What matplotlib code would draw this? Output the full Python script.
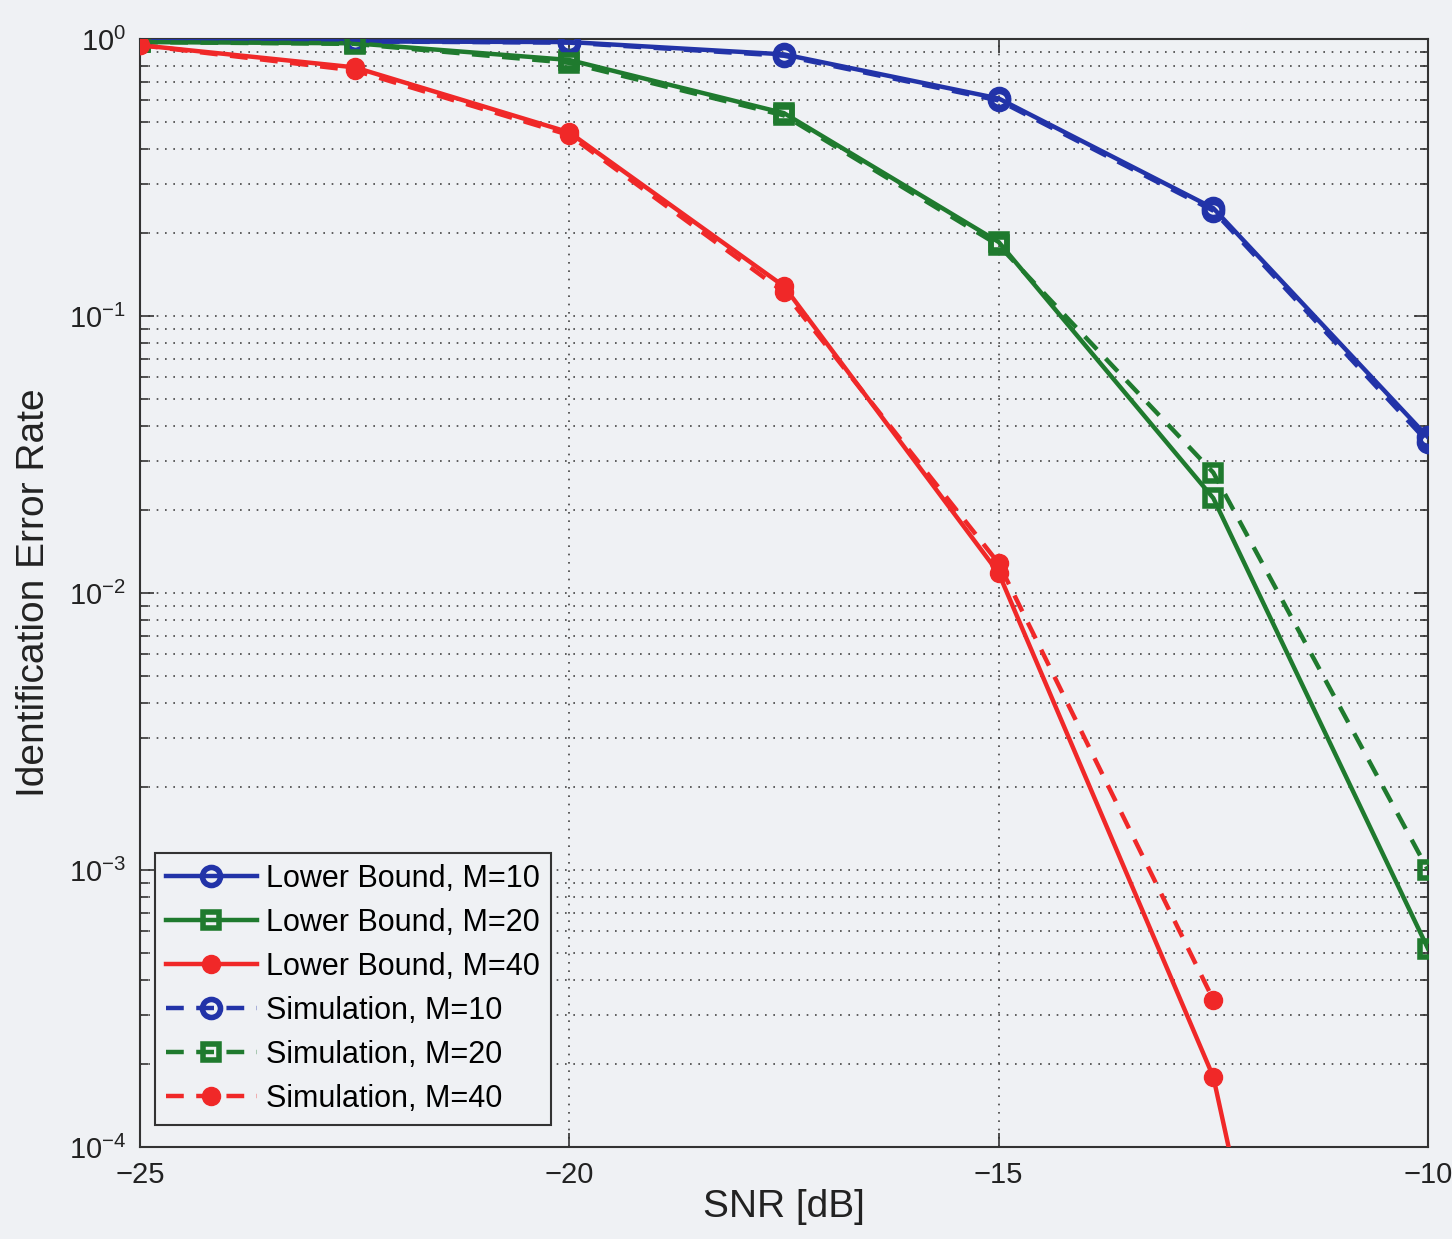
"""
Identification error rate vs SNR: lower bound and simulation curves.
"""

import numpy as np
import matplotlib
matplotlib.use('Agg')
import matplotlib.pyplot as plt
from matplotlib.ticker import LogLocator, FixedLocator

plt.rcParams['font.family'] = ['Liberation Sans', 'DejaVu Sans']
plt.rcParams['mathtext.fontset'] = 'custom'
plt.rcParams['mathtext.rm'] = 'Liberation Sans'

# Data
snr_db = [-25, -22.5, -20, -17.5, -15, -12.5, -10]

bound_m10 = [0.985, 0.98, 0.975, 0.88, 0.61, 0.245, 0.0365]
bound_m20 = [0.975, 0.965, 0.84, 0.54, 0.185, 0.022, 5.2e-4]
bound_m40 = [0.95, 0.79, 0.46, 0.128, 0.0118, 1.79e-4, 5e-8]

sim_m10 = [0.985, 0.98, 0.97, 0.87, 0.60, 0.24, 0.035]
sim_m20 = [0.975, 0.96, 0.82, 0.53, 0.18, 0.0272, 1.0e-3]
sim_m40 = [0.95, 0.77, 0.45, 0.122, 0.0128, 3.4e-4]

BLUE = '#2233a8'
GREEN = '#1f7a2e'
RED = '#f02828'
BG = '#eff1f4'

fig = plt.figure(figsize=(14.52, 12.39), dpi=100, facecolor=BG)
ax = fig.add_axes([140 / 1452, 1 - 1147 / 1239, 1288 / 1452, 1108 / 1239])
ax.set_facecolor(BG)

lw = 3.2
ms = 13
dash = (4, 2.8)

ax.plot(snr_db, bound_m10, '-', color=BLUE, lw=lw, marker='o', ms=ms,
        mfc='none', mec=BLUE, mew=4, label='Lower Bound, M=10', zorder=3)
ax.plot(snr_db, bound_m20, '-', color=GREEN, lw=lw, marker='s', ms=ms - 1,
        mfc='none', mec=GREEN, mew=4, label='Lower Bound, M=20', zorder=3)
ax.plot(snr_db, bound_m40, '-', color=RED, lw=lw, marker='o', ms=ms,
        mfc=RED, mec=RED, label='Lower Bound, M=40', zorder=3)

ax.plot(snr_db, sim_m10, '--', color=BLUE, lw=lw, marker='o', ms=ms,
        mfc='none', mec=BLUE, mew=4, dashes=dash, label='Simulation, M=10', zorder=3)
ax.plot(snr_db, sim_m20, '--', color=GREEN, lw=lw, marker='s', ms=ms - 1,
        mfc='none', mec=GREEN, mew=4, dashes=dash, label='Simulation, M=20', zorder=3)
ax.plot(snr_db[:len(sim_m40)], sim_m40, '--', color=RED, lw=lw, marker='o', ms=ms,
        mfc=RED, mec=RED, dashes=dash, label='Simulation, M=40', zorder=3)

ax.set_yscale('log')
ax.set_xlim(-25, -10)
ax.set_ylim(1e-4, 1)
ax.xaxis.set_major_locator(FixedLocator([-25, -20, -15, -10]))
ax.set_xticklabels(['\u221225', '\u221220', '\u221215', '\u221210'])
ax.yaxis.set_major_locator(LogLocator(base=10, numticks=10))
ax.yaxis.set_minor_locator(LogLocator(base=10, subs=np.arange(2, 10), numticks=20))

ax.grid(True, which='major', axis='both', linestyle=(0, (1, 4)), color='#444444', lw=1.2)
ax.grid(True, which='minor', axis='y', linestyle=(0, (1, 4)), color='#444444', lw=1.2)

ax.tick_params(which='both', direction='in', top=True, right=True, labelsize=21,
               width=1.2, color='#333333', labelcolor='#222222')
ax.tick_params(which='major', length=10, pad=10)
ax.tick_params(which='minor', length=6)
for s in ax.spines.values():
    s.set_color('#333333')
    s.set_linewidth(1.5)

ax.set_xlabel('SNR [dB]', fontsize=28, labelpad=0, color='#222222')
ax.set_ylabel('Identification Error Rate', fontsize=28, labelpad=12, color='#222222')

leg = ax.legend(loc='lower left', bbox_to_anchor=(0.0116, 0.02), borderaxespad=0,
                fontsize=22, handlelength=3.0, handletextpad=0.3, borderpad=0.35,
                labelspacing=0.46, fancybox=False, framealpha=1, facecolor=BG,
                edgecolor='#333333')
leg.get_frame().set_linewidth(1.5)

plt.savefig('out.png', dpi=100, facecolor=BG)
